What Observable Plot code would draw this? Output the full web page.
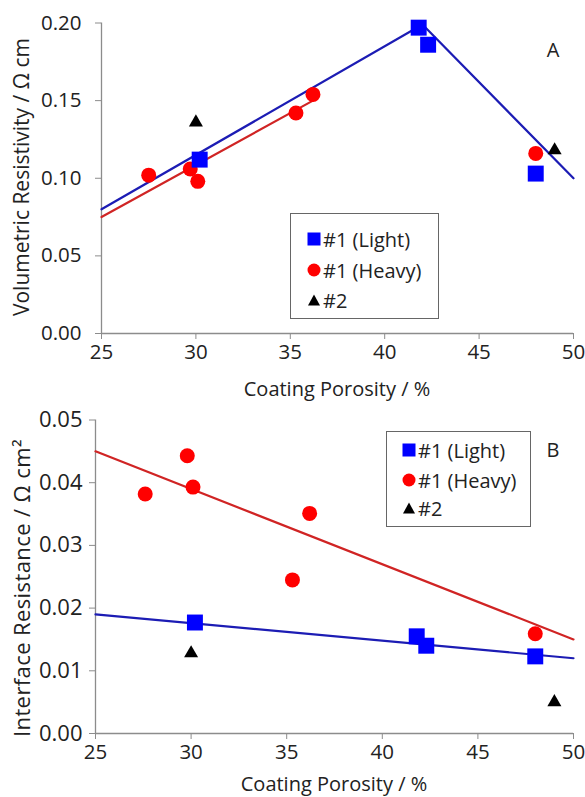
<!DOCTYPE html>
<html>
<head>
<meta charset="utf-8">
<script src="https://cdn.jsdelivr.net/npm/d3@7"></script>
<script src="https://cdn.jsdelivr.net/npm/@observablehq/plot@0.6"></script>
<style>
  html, body { margin: 0; padding: 0; background: #fff; }
  #wrap { position: relative; width: 585px; height: 797px; overflow: hidden; font-family: "Open Sans", sans-serif; color: #222; }
  .panel { position: absolute; left: 0; }
  .ytitle { position: absolute; white-space: nowrap; font-size: 21px; line-height: 24px; transform: translate(-50%, -50%) rotate(-90deg); }
  .xtitle { position: absolute; white-space: nowrap; font-size: 20px; line-height: 22px; transform: translate(-50%, -50%); }
  .tag { position: absolute; font-size: 20px; transform: translate(-50%, -50%); }
  .legend { position: absolute; border: 1px solid #666; background: #fff; box-sizing: border-box; }
  .row { position: absolute; left: 0; height: 26px; display: flex; align-items: center; font-size: 20px; white-space: nowrap; transform: translateY(-50%); }
  .row svg { display: block; }
</style>
</head>
<body>
<div id="wrap"></div>
<script>
// ---- tick labels / categories ----
const X_TICKS = [25, 30, 35, 40, 45, 50];
const Y_TICKS_A = [0, 0.05, 0.10, 0.15, 0.20];
const Y_TICKS_B = [0, 0.01, 0.02, 0.03, 0.04, 0.05];
const SERIES = ["#1 (Light)", "#1 (Heavy)", "#2"];
const X_TITLE = "Coating Porosity / %";
const Y_TITLE_A = "Volumetric Resistivity / Ω cm";
const Y_TITLE_B = "Interface Resistance / Ω cm²";

// ---- panel A data ----
const lightA_x = [30.2, 41.8, 42.3, 48.0];
const lightA_y = [0.112, 0.197, 0.186, 0.103];
const heavyA_x = [27.5, 29.7, 30.1, 35.3, 36.2, 48.0];
const heavyA_y = [0.102, 0.106, 0.098, 0.142, 0.154, 0.116];
const n2A_x = [30.0, 49.0];
const n2A_y = [0.136, 0.118];
const fitLightA_x = [25, 42.0, 50];
const fitLightA_y = [0.080, 0.199, 0.100];
const fitHeavyA_x = [25, 36.2];
const fitHeavyA_y = [0.075, 0.150];

// ---- panel B data ----
const lightB_x = [30.2, 41.8, 42.3, 48.0];
const lightB_y = [0.0177, 0.0155, 0.0140, 0.0123];
const heavyB_x = [27.6, 29.8, 30.1, 35.3, 36.2, 48.0];
const heavyB_y = [0.0382, 0.0443, 0.0393, 0.0245, 0.0351, 0.0159];
const n2B_x = [30.0, 49.0];
const n2B_y = [0.0128, 0.0050];
const fitLightB_x = [25, 50];
const fitLightB_y = [0.019, 0.012];
const fitHeavyB_x = [25, 50];
const fitHeavyB_y = [0.045, 0.015];

// ---- styles ----
const COLORS = { light: "#0000ff", heavy: "#ff0000", n2: "#000000" };
const LINE_COLORS = { light: "#1c1cb4", heavy: "#d02424" };
const AXIS_COLOR = "#8c8c8c";

const pts = (xs, ys) => xs.map((x, i) => ({ x, y: ys[i] }));

function panel({ height, mt, mb, ml, mr, yTicks, yFont, yPad, light, heavy, n2, fitL, fitH }) {
  return Plot.plot({
    width: 585, height,
    marginTop: mt, marginBottom: mb, marginLeft: ml, marginRight: mr,
    style: { fontFamily: "Open Sans", fontSize: "20px", background: "transparent", overflow: "visible" },
    x: { domain: [X_TICKS[0], X_TICKS[X_TICKS.length - 1]] },
    y: { domain: [yTicks[0], yTicks[yTicks.length - 1]] },
    marks: [
      Plot.axisX({ ticks: X_TICKS, tickSize: 6, tickPadding: 5, stroke: AXIS_COLOR, fill: "#222", fontSize: 20.5, label: null }),
      Plot.axisY({ ticks: yTicks, tickFormat: d3.format(".2f"), tickSize: 6, tickPadding: yPad, stroke: AXIS_COLOR, fill: "#222", fontSize: yFont, label: null }),
      Plot.ruleY([yTicks[0]], { stroke: AXIS_COLOR, strokeWidth: 1.3 }),
      Plot.ruleX([X_TICKS[0]], { stroke: AXIS_COLOR, strokeWidth: 1.3 }),
      Plot.line(fitL, { x: "x", y: "y", stroke: LINE_COLORS.light, strokeWidth: 2.2 }),
      Plot.line(fitH, { x: "x", y: "y", stroke: LINE_COLORS.heavy, strokeWidth: 2.2 }),
      Plot.dot(n2, { x: "x", y: "y", symbol: "triangle", r: 5.2, fill: COLORS.n2, stroke: "none" }),
      Plot.dot(heavy, { x: "x", y: "y", symbol: "circle", r: 7.5, fill: COLORS.heavy, stroke: "none" }),
      Plot.dot(light, { x: "x", y: "y", symbol: "square", r: 9, fill: COLORS.light, stroke: "none" })
    ]
  });
}

const wrap = document.getElementById("wrap");

function place(el, top) {
  el.classList.add("panel");
  el.style.top = top + "px";
  wrap.appendChild(el);
}

const A = panel({
  height: 400, mt: 22.5, mb: 67, ml: 101, mr: 12, yTicks: Y_TICKS_A, yFont: 20.5, yPad: 14,
  light: pts(lightA_x, lightA_y), heavy: pts(heavyA_x, heavyA_y), n2: pts(n2A_x, n2A_y),
  fitL: pts(fitLightA_x, fitLightA_y), fitH: pts(fitHeavyA_x, fitHeavyA_y)
});
place(A, 0);

const B = panel({
  height: 397, mt: 19.5, mb: 64, ml: 95, mr: 12, yTicks: Y_TICKS_B, yFont: 22, yPad: 7,
  light: pts(lightB_x, lightB_y), heavy: pts(heavyB_x, heavyB_y), n2: pts(n2B_x, n2B_y),
  fitL: pts(fitLightB_x, fitLightB_y), fitH: pts(fitHeavyB_x, fitHeavyB_y)
});
place(B, 400);

function addText(cls, txt, x, y, extra) {
  const d = document.createElement("div");
  d.className = cls;
  d.textContent = txt;
  d.style.left = x + "px";
  d.style.top = y + "px";
  if (extra) Object.assign(d.style, extra);
  wrap.appendChild(d);
}
addText("ytitle", Y_TITLE_A, 20.5, 176.5);
addText("xtitle", X_TITLE, 337, 389);
addText("tag", "A", 553, 49);
addText("ytitle", Y_TITLE_B, 20.5, 587.5, { fontSize: "22px", letterSpacing: "0.4px" });
addText("xtitle", X_TITLE, 334, 784);
addText("tag", "B", 553, 449);

function symbolSVG(kind, color) {
  const ns = "http://www.w3.org/2000/svg";
  const s = document.createElementNS(ns, "svg");
  s.setAttribute("width", 14); s.setAttribute("height", 14);
  let el;
  if (kind === "square") {
    el = document.createElementNS(ns, "rect");
    el.setAttribute("x", 0.5); el.setAttribute("y", 0.5); el.setAttribute("width", 13); el.setAttribute("height", 13);
  } else if (kind === "circle") {
    el = document.createElementNS(ns, "circle");
    el.setAttribute("cx", 7); el.setAttribute("cy", 7); el.setAttribute("r", 6.5);
  } else {
    el = document.createElementNS(ns, "path");
    el.setAttribute("d", "M7,1.5 L13,12.5 L1,12.5 Z");
  }
  el.setAttribute("fill", color);
  s.appendChild(el);
  return s;
}

function legend(left, top, w, h, rowYs, symX) {
  const box = document.createElement("div");
  box.className = "legend";
  Object.assign(box.style, { left: left + "px", top: top + "px", width: w + "px", height: h + "px" });
  const kinds = [["square", COLORS.light], ["circle", COLORS.heavy], ["triangle", COLORS.n2]];
  SERIES.forEach((name, i) => {
    const r = document.createElement("div");
    r.className = "row";
    r.style.top = rowYs[i] + "px";
    r.style.left = (symX - 7) + "px";
    r.appendChild(symbolSVG(kinds[i][0], kinds[i][1]));
    const t = document.createElement("span");
    t.textContent = name;
    t.style.marginLeft = "2px";
    r.appendChild(t);
    box.appendChild(r);
  });
  wrap.appendChild(box);
}
legend(290, 213, 149, 106, [25, 56, 86], 23);
legend(386, 431, 145, 96, [18, 48, 76], 22);
</script>
</body>
</html>
